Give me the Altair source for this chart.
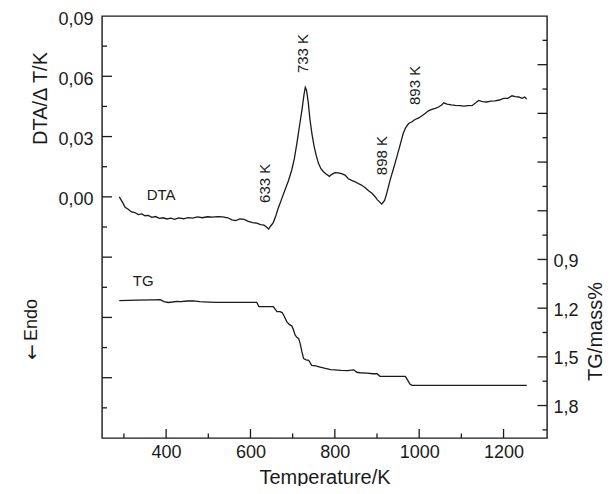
import altair as alt
import pandas as pd

W, H = 445, 422
FONT = "Liberation Sans"
INK = "#1a1a1a"

# ---------------- data ----------------
dta_T = [289, 296, 303, 310, 318, 326, 334, 342, 350, 358, 366, 375, 384, 393, 402,
         411, 420, 430, 441, 452, 463, 474, 486, 498, 510, 522, 534, 546, 556, 565,
         575, 585, 595, 605, 615, 624, 632, 638, 643, 648, 654, 660, 666, 674, 682,
         690, 698, 704, 710, 716, 722, 727, 730, 733, 737, 741, 746, 751, 756, 761,
         767, 773, 780, 787, 793, 800, 808, 816, 824, 832, 840, 848, 856, 864, 872,
         880, 888, 895, 901, 906, 911, 914, 918, 924, 931, 939, 947, 955, 962, 968,
         975, 983, 990, 998, 1006, 1014, 1022, 1030, 1038, 1046, 1054, 1058, 1066, 1076, 1086,
         1096, 1106, 1116, 1126, 1134, 1141, 1150, 1160, 1170, 1180, 1190, 1200, 1210, 1220, 1228,
         1236, 1244, 1250, 1255]
dta_v = [0.0000, -0.0025, -0.0052, -0.0062, -0.0075, -0.0078, -0.0088, -0.0085, -0.0094, -0.0092,
         -0.0102, -0.0098, -0.0107, -0.0104, -0.0110, -0.0106, -0.0112, -0.0105, -0.0109, -0.0103,
         -0.0106, -0.0100, -0.0104, -0.0099, -0.0101, -0.0098, -0.0100, -0.0104, -0.0114, -0.0118,
         -0.0110, -0.0112, -0.0122, -0.0128, -0.0131, -0.0138, -0.0141, -0.0150, -0.0160, -0.0145,
         -0.0128, -0.0095, -0.0055, -0.0010, 0.0035, 0.0080, 0.0135, 0.0190, 0.0266, 0.0350,
         0.0432, 0.0510, 0.0545, 0.0530, 0.0470, 0.0385, 0.0310, 0.0250, 0.0205, 0.0168,
         0.0140, 0.0125, 0.0112, 0.0102, 0.0112, 0.0120, 0.0119, 0.0116, 0.0108, 0.0090,
         0.0082, 0.0075, 0.0066, 0.0058, 0.0045, 0.0030, 0.0018, 0.0002, -0.0015, -0.0025,
         -0.0036, -0.0028, -0.0018, 0.0025, 0.0083, 0.0140, 0.0199, 0.0260, 0.0315, 0.0345,
         0.0365, 0.0374, 0.0385, 0.0392, 0.0402, 0.0415, 0.0428, 0.0435, 0.0440, 0.0447,
         0.0458, 0.0468, 0.0462, 0.0458, 0.0455, 0.0454, 0.0452, 0.0454, 0.0455, 0.0468,
         0.0480, 0.0474, 0.0472, 0.0476, 0.0478, 0.0482, 0.0490, 0.0490, 0.0503, 0.0499,
         0.0497, 0.0490, 0.0497, 0.0487]

tg_T = [289, 330, 370, 386, 395, 405, 415, 425, 435, 450,
        465, 480, 500, 520, 550, 580, 615, 620, 627, 640,
        654, 658, 663, 670, 675, 680, 686, 692, 698, 702,
        706, 710, 714, 718, 722, 726, 732, 738, 745, 755,
        765, 775, 790, 800, 815, 830, 845, 852, 860, 876,
        890, 900, 907, 920, 935, 950, 967, 972, 978, 983,
        1000, 1050, 1100, 1150, 1200, 1255]
tg_v = [1.153, 1.150, 1.149, 1.148, 1.160, 1.165, 1.162, 1.158, 1.160, 1.156,
        1.155, 1.160, 1.163, 1.165, 1.165, 1.165, 1.165, 1.190, 1.190, 1.190,
        1.190, 1.205, 1.221, 1.222, 1.227, 1.250, 1.283, 1.300, 1.310, 1.335,
        1.366, 1.380, 1.386, 1.420, 1.470, 1.511, 1.518, 1.521, 1.552, 1.556,
        1.563, 1.570, 1.579, 1.580, 1.583, 1.585, 1.580, 1.595, 1.598, 1.600,
        1.604, 1.604, 1.620, 1.620, 1.620, 1.620, 1.620, 1.640, 1.668, 1.676,
        1.676, 1.676, 1.676, 1.676, 1.676, 1.676]

note_text = ["633 K", "733 K", "898 K", "893 K"]
note_T = [635, 724, 911, 990]
note_v = [-0.003, 0.0616, 0.0108, 0.0457]

series_label = ["DTA"]
series_label_T = [354]
series_label_v = [0.0009]
tg_label = ["TG"]
tg_label_T = [321]
tg_label_v = [1.03]
endo_arrow = ["←"]
endo_word = ["Endo"]

x_major = [400, 600, 800, 1000, 1200]
x_minor = [300, 500, 700, 900, 1100]
left_labels = [0.0, 0.03, 0.06, 0.09]
left_major = [-0.09, -0.06, -0.03, 0.0, 0.03, 0.06]
left_minor = [-0.105, -0.075, -0.045, -0.015, 0.015, 0.045, 0.075]
right_labels = [0.9, 1.2, 1.5, 1.8]
right_major = [-0.3, 0.0, 0.3, 0.6, 0.9, 1.2, 1.5, 1.8]
right_minor = [-0.45, -0.15, 0.15, 0.45, 0.75, 1.05, 1.35, 1.65, 1.95]

# ---------------- scales & axes ----------------
xscale = alt.Scale(domain=[248, 1303], nice=False, zero=False)
lscale = alt.Scale(domain=[-0.12, 0.09], nice=False, zero=False)
rscale = alt.Scale(domain=[-0.6, 2.0], nice=False, zero=False, reverse=True)

xaxis = alt.Axis(values=x_major, format="d", ticks=False, domain=False, grid=False,
                 labelFontSize=18, labelPadding=5, labelFlush=False,
                 title="Temperature/K", titleFontSize=20, titleFontWeight="normal",
                 titleY=45, titleBaseline="alphabetic")
laxis = alt.Axis(orient="left", values=left_labels,
                 labelExpr="replace(format(datum.value, '.2f'), '.', ',')",
                 ticks=False, domain=False, grid=False, labelFontSize=18, labelPadding=9,
                 labelFlush=False, labelOffset=3,
                 title="DTA/Δ T/K", titleFontSize=20, titleFontWeight="normal",
                 titleAngle=270, titleX=-62, titleY=82, titleAlign="center",
                 titleBaseline="middle")
raxis = alt.Axis(orient="right", values=right_labels,
                 labelExpr="replace(format(datum.value, '.1f'), '.', ',')",
                 ticks=False, domain=False, grid=False, labelFontSize=18, labelPadding=6,
                 labelFlush=False, labelOffset=2,
                 title="TG/mass%", titleFontSize=20, titleFontWeight="normal",
                 titleAngle=270, titleX=48, titleY=315, titleAlign="center",
                 titleBaseline="middle")

df_dta = pd.DataFrame({"T": dta_T, "v": dta_v})
df_tg = pd.DataFrame({"T": tg_T, "v": tg_v})

XL = alt.X("T:Q", scale=xscale, axis=xaxis)
YL = alt.Y("v:Q", scale=lscale, axis=laxis)
YR = alt.Y("v:Q", scale=rscale, axis=raxis)

# ---------------- left (DTA) layer ----------------
dta_line = alt.Chart(df_dta).mark_line(color=INK, strokeWidth=1.3).encode(
    x=XL, y=YL, order="T:Q")

notes = alt.Chart(pd.DataFrame({"t": note_text, "T": note_T, "v": note_v})).mark_text(
    angle=270, align="left", baseline="middle", fontSize=15, font=FONT, color=INK
).encode(x=XL, y=YL, text="t:N")

dta_lbl = alt.Chart(pd.DataFrame({"t": series_label, "T": series_label_T, "v": series_label_v})).mark_text(
    align="left", baseline="middle", fontSize=15, font=FONT, color=INK
).encode(x=XL, y=YL, text="t:N")

arrow = alt.Chart(pd.DataFrame({"t": endo_arrow})).mark_text(
    angle=270, align="center", baseline="middle", fontSize=19, font="DejaVu Sans", color=INK
).encode(text="t:N", x=alt.value(-70), y=alt.value(336))
endo = alt.Chart(pd.DataFrame({"t": endo_word})).mark_text(
    angle=270, align="center", baseline="middle", fontSize=18, font=FONT, color=INK
).encode(text="t:N", x=alt.value(-70), y=alt.value(304))

lmaj = alt.Chart(pd.DataFrame({"v": left_major})).mark_rule(color=INK, strokeWidth=1.3).encode(
    y=YL, x=alt.value(0), x2=alt.value(10))
lmin = alt.Chart(pd.DataFrame({"v": left_minor})).mark_rule(color=INK, strokeWidth=1.3).encode(
    y=YL, x=alt.value(0), x2=alt.value(5))
xmaj = alt.Chart(pd.DataFrame({"T": x_major})).mark_rule(color=INK, strokeWidth=1.3).encode(
    x=XL, y=alt.value(H), y2=alt.value(H - 9))
xmin = alt.Chart(pd.DataFrame({"T": x_minor})).mark_rule(color=INK, strokeWidth=1.3).encode(
    x=XL, y=alt.value(H), y2=alt.value(H - 4.5))

left = alt.layer(dta_line, notes, dta_lbl, arrow, endo, lmaj, lmin, xmaj, xmin)

# ---------------- right (TG) layer ----------------
tg_line = alt.Chart(df_tg).mark_line(color=INK, strokeWidth=1.3).encode(
    x=XL, y=YR, order="T:Q")
tg_lbl = alt.Chart(pd.DataFrame({"t": tg_label, "T": tg_label_T, "v": tg_label_v})).mark_text(
    align="left", baseline="middle", fontSize=15, font=FONT, color=INK
).encode(x=XL, y=YR, text="t:N")
rmaj = alt.Chart(pd.DataFrame({"v": right_major})).mark_rule(color=INK, strokeWidth=1.3).encode(
    y=YR, x=alt.value(W), x2=alt.value(W - 9.5))
rmin = alt.Chart(pd.DataFrame({"v": right_minor})).mark_rule(color=INK, strokeWidth=1.3).encode(
    y=YR, x=alt.value(W), x2=alt.value(W - 4.5))

right = alt.layer(tg_line, tg_lbl, rmaj, rmin)

chart = alt.layer(left, right).resolve_scale(y="independent").properties(
    width=W, height=H,
    padding={"left": 94, "top": 8, "right": 58, "bottom": 48},
    autosize=alt.AutoSizeParams(type="none"),
    background="white",
).configure_view(stroke=INK, strokeWidth=1.4).configure_axis(
    labelFont=FONT, titleFont=FONT, labelColor=INK, titleColor=INK
)

chart.save("out.html", embed_options={"renderer": "svg", "actions": False})
